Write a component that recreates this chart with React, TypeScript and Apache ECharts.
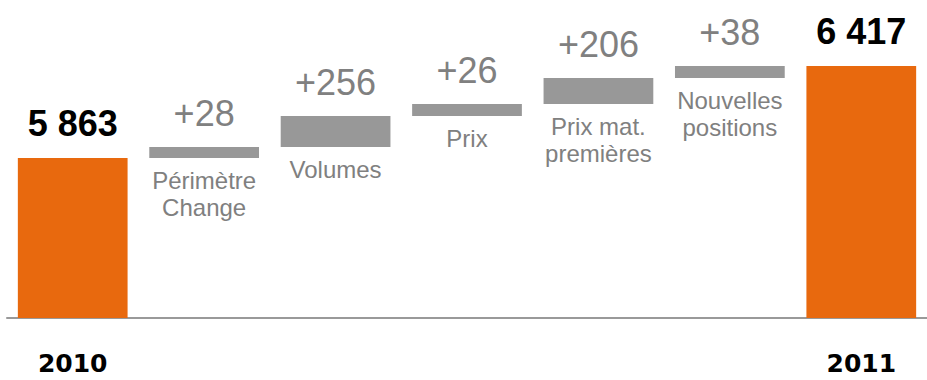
import React, { useEffect, useRef } from "react";
import * as echarts from "echarts";

// ---- Data ----
const categories = [
  "2010",
  "Périmètre\nChange",
  "Volumes",
  "Prix",
  "Prix mat.\npremières",
  "Nouvelles\npositions",
  "2011",
];
const isTotal = [true, false, false, false, false, false, true];
// Values printed on the chart (2010 total, increments, 2011 total)
const valueLabels = [5863, 28, 256, 26, 206, 38, 6417];
// Bar lengths as drawn in the original schematic waterfall (not to scale), display units
const drawnStart = 160;
const drawnSteps = [11, 31, 12, 26, 12];
const axisMax = 318;

// ---- Derived ----
const drawnHeights: number[] = [];
const bases: number[] = [];
{
  let run = drawnStart;
  drawnHeights.push(drawnStart);
  bases.push(0);
  drawnSteps.forEach((s) => {
    bases.push(run);
    drawnHeights.push(s);
    run += s;
  });
  drawnHeights.push(run);
  bases.push(0);
}

const ORANGE = "#E8690E";
const GRAY_BAR = "#989898";
const GRAY_TEXT = "#808080";
const FONT = "'Liberation Sans', Arial, sans-serif";

const fmt = (n: number) => String(n).replace(/\B(?=(\d{3})+(?!\d))/g, " ");

export default function App() {
  const ref = useRef<HTMLDivElement>(null);
  useEffect(() => {
    if (!ref.current) return;
    const chart = echarts.init(ref.current, undefined, { renderer: "svg" });
    chart.setOption({
      animation: false,
      grid: { left: 7, right: -11, top: 0, bottom: 62, containLabel: false },
      xAxis: {
        type: "category",
        data: categories,
        axisTick: { show: false },
        axisLine: { show: true, lineStyle: { color: "#999999", width: 2 } },
        axisLabel: {
          interval: 0,
          margin: 33,
          formatter: (v: string, i: number) => (isTotal[i] ? v : ""),
          color: "#000",
          fontSize: 25,
          lineHeight: 25,
          fontWeight: "bold",
          fontFamily: "'DejaVu Sans', sans-serif",
        },
      },
      yAxis: { type: "value", min: 0, max: axisMax, show: false },
      series: [
        {
          type: "bar",
          stack: "w",
          silent: true,
          data: bases,
          itemStyle: { color: "transparent" },
          label: {
            show: true,
            position: "insideTop",
            distance: 9,
            formatter: (p: any) => (isTotal[p.dataIndex] ? "" : categories[p.dataIndex]),
            color: GRAY_TEXT,
            fontSize: 24,
            lineHeight: 27,
            fontFamily: FONT,
          },
        },
        {
          type: "bar",
          stack: "w",
          barCategoryGap: "16.5%",
          data: drawnHeights.map((h, i) => ({
            value: h,
            itemStyle: { color: isTotal[i] ? ORANGE : GRAY_BAR },
          })),
          label: {
            show: true,
            position: "top",
            distance: 16,
            formatter: (p: any) =>
              isTotal[p.dataIndex]
                ? `{t|${fmt(valueLabels[p.dataIndex])}}`
                : `{s|+${valueLabels[p.dataIndex]}}`,
            rich: {
              t: { fontSize: 36, lineHeight: 36, fontWeight: "bold", color: "#000", fontFamily: FONT, padding: [0, 0, 2, 0] },
              s: { fontSize: 36, lineHeight: 36, color: GRAY_TEXT, fontFamily: FONT },
            },
          },
        },
      ],
    });
    return () => chart.dispose();
  }, []);
  return (
    <div
      ref={ref}
      style={{ position: "fixed", left: 0, top: 0, width: 927, height: 380, background: "#fff" }}
    />
  );
}
